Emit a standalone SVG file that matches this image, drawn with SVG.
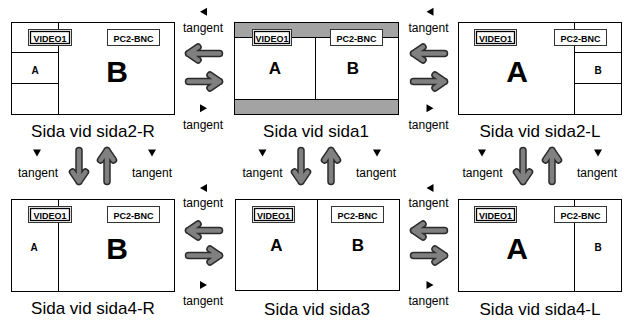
<svg xmlns="http://www.w3.org/2000/svg" width="628" height="323" viewBox="0 0 628 323">
<style>
.box{fill:#fff;stroke:#000;stroke-width:1}
.ln{stroke:#000;stroke-width:1;fill:none}
.band{fill:#a3a3a3;stroke:#000;stroke-width:1}
.lbo{fill:#fff;stroke:#333;stroke-width:1}
.lbi{fill:#fff;stroke:#000;stroke-width:1.3}
.lb{font-family:"Liberation Sans",Arial,sans-serif;font-weight:bold;font-size:9px;text-anchor:middle;fill:#000}
.sm{font-family:"Liberation Sans",Arial,sans-serif;font-weight:bold;font-size:10px;text-anchor:middle}
.md{font-family:"Liberation Sans",Arial,sans-serif;font-weight:bold;font-size:17px;text-anchor:middle}
.bg{font-family:"Liberation Sans",Arial,sans-serif;font-weight:bold;font-size:30px;text-anchor:middle}
.cap{font-family:"Liberation Sans",Arial,sans-serif;font-size:17px;text-anchor:middle}
.tg{font-family:"Liberation Sans",Arial,sans-serif;font-size:12px;text-anchor:middle}
.ao{fill:none;stroke:#2b2b2b;stroke-width:7.5;stroke-linecap:round;stroke-linejoin:round}
.ai{fill:none;stroke:#808080;stroke-width:4.5;stroke-linecap:round;stroke-linejoin:round}
</style>
<defs>
<g id="arrL">
<path class="ao" d="M15.5,0 H-15.5 M-6,-6.5 L-15.5,0 L-6,6.5"/>
<path class="ai" d="M15.5,0 H-15.5 M-6,-6.5 L-15.5,0 L-6,6.5"/>
</g>
<path id="triL" d="M-3.5,0 L3.5,-4 L3.5,4 Z" fill="#000"/>
<path id="triR" d="M3.5,0 L-3.5,-4 L-3.5,4 Z" fill="#000"/>
<path id="triD" d="M-4,-3.5 L4,-3.5 L0,3.5 Z" fill="#000"/>
</defs>
<rect width="628" height="323" fill="#fff"/>

<g id="sida2R">
<rect class="box" x="11.5" y="22.5" width="163" height="92"/>
<line class="ln" x1="58.5" y1="22.5" x2="58.5" y2="114.5"/>
<line class="ln" x1="11.5" y1="52.5" x2="58.5" y2="52.5"/>
<line class="ln" x1="11.5" y1="83.5" x2="58.5" y2="83.5"/>
<rect class="lbo" x="28.5" y="29.5" width="43" height="16"/>
<rect class="lbi" x="30.5" y="31.5" width="39" height="12"/>
<text class="lb" x="50" y="41.5">VIDEO1</text>
<rect class="lbo" x="107.5" y="29.5" width="52" height="16"/>
<text class="lb" x="133.5" y="41.5">PC2-BNC</text>
<text class="sm" x="35" y="74">A</text>
<text class="bg" x="117" y="82">B</text>
<text class="cap" x="93" y="137">Sida vid sida2-R</text>
</g>

<g id="sida1">
<rect class="box" x="234.5" y="22.5" width="164" height="92"/>
<rect class="band" x="234.5" y="22.5" width="164" height="15"/>
<rect class="band" x="234.5" y="99.5" width="164" height="15"/>
<line class="ln" x1="315.5" y1="37.5" x2="315.5" y2="99.5"/>
<rect class="lbo" x="252.5" y="29.5" width="39" height="16"/>
<rect class="lbi" x="254.5" y="31.5" width="35" height="12"/>
<text class="lb" x="272" y="41.5">VIDEO1</text>
<rect class="lbo" x="330.5" y="29.5" width="52" height="16"/>
<text class="lb" x="356.5" y="41.5">PC2-BNC</text>
<text class="md" x="275" y="74">A</text>
<text class="md" x="353" y="74">B</text>
<text class="cap" x="316" y="137">Sida vid sida1</text>
</g>

<g id="sida2L">
<rect class="box" x="458.5" y="22.5" width="163" height="92"/>
<line class="ln" x1="574.5" y1="22.5" x2="574.5" y2="114.5"/>
<line class="ln" x1="574.5" y1="52.5" x2="621.5" y2="52.5"/>
<line class="ln" x1="574.5" y1="83.5" x2="621.5" y2="83.5"/>
<rect class="lbo" x="474.5" y="29.5" width="42" height="16"/>
<rect class="lbi" x="476.5" y="31.5" width="38" height="12"/>
<text class="lb" x="495.5" y="41.5">VIDEO1</text>
<rect class="lbo" x="554.5" y="29.5" width="52" height="16"/>
<text class="lb" x="580.5" y="41.5">PC2-BNC</text>
<text class="bg" x="517" y="82">A</text>
<text class="sm" x="598" y="74">B</text>
<text class="cap" x="540" y="137">Sida vid sida2-L</text>
</g>

<g id="sida4R">
<rect class="box" x="11.5" y="199.5" width="163" height="92"/>
<line class="ln" x1="58.5" y1="199.5" x2="58.5" y2="291.5"/>
<rect class="lbo" x="28.5" y="206.5" width="43" height="16"/>
<rect class="lbi" x="30.5" y="208.5" width="39" height="12"/>
<text class="lb" x="50" y="218.5">VIDEO1</text>
<rect class="lbo" x="107.5" y="206.5" width="52" height="16"/>
<text class="lb" x="133.5" y="218.5">PC2-BNC</text>
<text class="sm" x="34" y="250.5">A</text>
<text class="bg" x="117" y="258.5">B</text>
<text class="cap" x="93" y="314">Sida vid sida4-R</text>
</g>

<g id="sida3">
<rect class="box" x="235.5" y="199.5" width="164" height="91"/>
<line class="ln" x1="317.5" y1="199.5" x2="317.5" y2="290.5"/>
<rect class="lbo" x="252.5" y="206.5" width="42" height="16"/>
<rect class="lbi" x="254.5" y="208.5" width="38" height="12"/>
<text class="lb" x="273.5" y="218.5">VIDEO1</text>
<rect class="lbo" x="331.5" y="206.5" width="52" height="16"/>
<text class="lb" x="357.5" y="218.5">PC2-BNC</text>
<text class="md" x="276.5" y="250.5">A</text>
<text class="md" x="358" y="250.5">B</text>
<text class="cap" x="317" y="315">Sida vid sida3</text>
</g>

<g id="sida4L">
<rect class="box" x="458.5" y="199.5" width="163" height="92"/>
<line class="ln" x1="574.5" y1="199.5" x2="574.5" y2="291.5"/>
<rect class="lbo" x="474.5" y="206.5" width="42" height="16"/>
<rect class="lbi" x="476.5" y="208.5" width="38" height="12"/>
<text class="lb" x="495.5" y="218.5">VIDEO1</text>
<rect class="lbo" x="554.5" y="206.5" width="52" height="16"/>
<text class="lb" x="580.5" y="218.5">PC2-BNC</text>
<text class="bg" x="517" y="258.5">A</text>
<text class="sm" x="598" y="250.5">B</text>
<text class="cap" x="540" y="315">Sida vid sida4-L</text>
</g>

<g id="connectors">
<use href="#triL" x="203.5" y="11.7"/>
<text class="tg" x="203" y="31.7">tangent</text>
<use href="#arrL" transform="translate(204,53.5)"/>
<use href="#arrL" transform="translate(204,81.5) rotate(180)"/>
<use href="#triR" x="203.5" y="108.3"/>
<text class="tg" x="203" y="128.5">tangent</text>

<use href="#triL" x="430" y="11.7"/>
<text class="tg" x="428.5" y="31.7">tangent</text>
<use href="#arrL" transform="translate(429,53.5)"/>
<use href="#arrL" transform="translate(429,81.5) rotate(180)"/>
<use href="#triR" x="430" y="108.3"/>
<text class="tg" x="428.5" y="128.5">tangent</text>

<use href="#triL" x="203.5" y="188"/>
<text class="tg" x="203" y="206.7">tangent</text>
<use href="#arrL" transform="translate(204,230.5)"/>
<use href="#arrL" transform="translate(204,255.5) rotate(180)"/>
<use href="#triR" x="203.5" y="285"/>
<text class="tg" x="203" y="305">tangent</text>

<use href="#triL" x="430" y="188"/>
<text class="tg" x="428.5" y="206.7">tangent</text>
<use href="#arrL" transform="translate(429,230.5)"/>
<use href="#arrL" transform="translate(429,255.5) rotate(180)"/>
<use href="#triR" x="430" y="285"/>
<text class="tg" x="428.5" y="305">tangent</text>

<use href="#triD" x="37" y="153"/>
<text class="tg" x="38" y="176.7">tangent</text>
<use href="#arrL" transform="translate(79,166) rotate(-90)"/>
<use href="#arrL" transform="translate(107,166) rotate(90)"/>
<use href="#triD" x="152" y="153"/>
<text class="tg" x="152" y="176.7">tangent</text>

<use href="#triD" x="262.5" y="153"/>
<text class="tg" x="262.5" y="176.7">tangent</text>
<use href="#arrL" transform="translate(301,166) rotate(-90)"/>
<use href="#arrL" transform="translate(331,166) rotate(90)"/>
<use href="#triD" x="377" y="153"/>
<text class="tg" x="376" y="176.7">tangent</text>

<use href="#triD" x="482" y="153"/>
<text class="tg" x="482.5" y="176.7">tangent</text>
<use href="#arrL" transform="translate(523,166) rotate(-90)"/>
<use href="#arrL" transform="translate(552,166) rotate(90)"/>
<use href="#triD" x="598" y="153"/>
<text class="tg" x="597" y="176.7">tangent</text>
</g>
</svg>
